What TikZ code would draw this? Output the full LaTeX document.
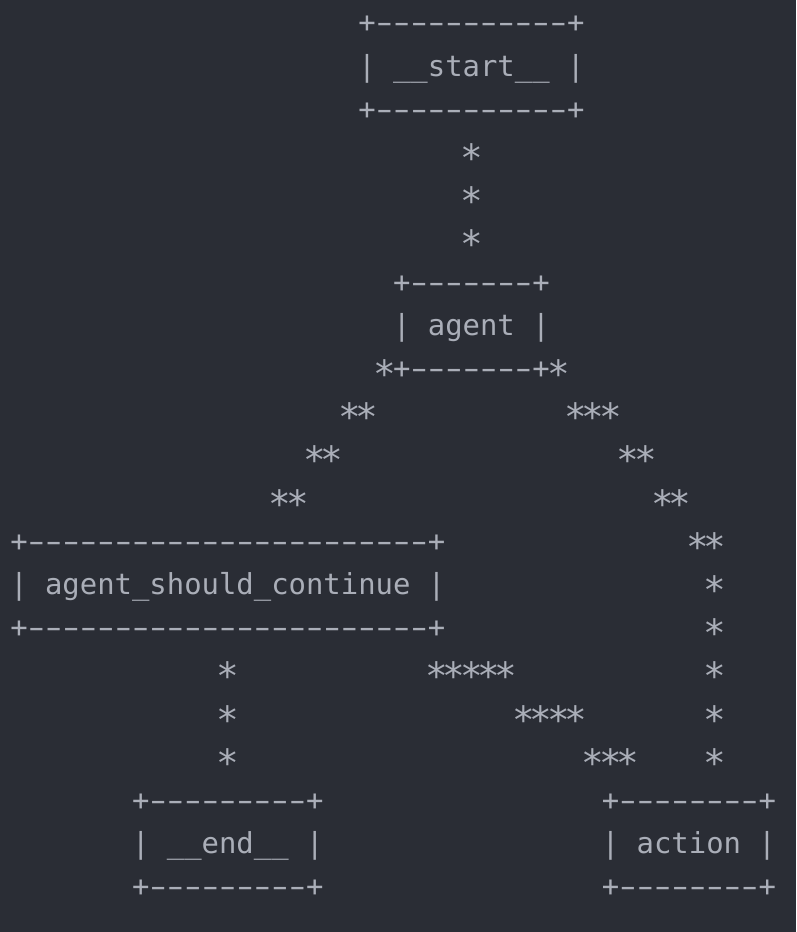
\documentclass[tikz,border=0pt]{standalone}
\usepackage{fontspec}
\newfontfamily\mono{DejaVu Sans Mono}[Ligatures=TeXOff]
\definecolor{bg}{RGB}{42,45,53}
\definecolor{fg}{RGB}{170,174,184}
\tikzset{
  txt/.style={anchor=base west, inner sep=0pt, outer sep=0pt, text=fg,
    font=\mono\fontsize{28.9pt}{43.2pt}\selectfont}
}
% column c, row r
\newcommand\at[2]{({10.3pt+17.4pt*#1},{-32.8pt-43.2pt*#2})}
% one asterisk glyph, larger and centred lower, same advance
\newcommand\sg{\makebox[17.4pt][c]{\raisebox{-9pt}{\scalebox{1.3}{*}}}}
\newcommand\stars[1]{\foreach \k in {1,...,#1}{\sg}}
% one dash glyph, wider, same advance
\newcommand\dg{\makebox[17.4pt][c]{\scalebox{1.65}[1]{-}}}
\newcommand\boxline[1]{+\foreach \k in {1,...,#1}{\dg}+}
\begin{document}
\begin{tikzpicture}[x=1pt,y=1pt]
\fill[bg] (0,0) rectangle (796,-932);
\useasboundingbox (0,0) rectangle (796,-932);
% __start__ box
\node[txt] (startT) at \at{20}{0} {\boxline{11}};
\node[txt] (startM) at \at{20}{1} {| \_\_start\_\_ |};
\node[txt] (startB) at \at{20}{2} {\boxline{11}};
% start -> agent
\node[txt] (e1a) at \at{26}{3} {\stars{1}};
\node[txt] (e1b) at \at{26}{4} {\stars{1}};
\node[txt] (e1c) at \at{26}{5} {\stars{1}};
% agent box
\node[txt] (agentT) at \at{22}{6} {\boxline{7}};
\node[txt] (agentM) at \at{22}{7} {| agent |};
\node[txt] (agentB) at \at{22}{8} {\boxline{7}};
% agent -> agent_should_continue
\node[txt] (e2a) at \at{21}{8} {\stars{1}};
\node[txt] (e2b) at \at{19}{9} {\stars{2}};
\node[txt] (e2c) at \at{17}{10} {\stars{2}};
\node[txt] (e2d) at \at{15}{11} {\stars{2}};
% agent <-> action
\node[txt] (e3a) at \at{31}{8} {\stars{1}};
\node[txt] (e3b) at \at{32}{9} {\stars{3}};
\node[txt] (e3c) at \at{35}{10} {\stars{2}};
\node[txt] (e3d) at \at{37}{11} {\stars{2}};
\node[txt] (e3e) at \at{39}{12} {\stars{2}};
\node[txt] (e3f) at \at{40}{13} {\stars{1}};
\node[txt] (e3g) at \at{40}{14} {\stars{1}};
\node[txt] (e3h) at \at{40}{15} {\stars{1}};
\node[txt] (e3i) at \at{40}{16} {\stars{1}};
\node[txt] (e3j) at \at{40}{17} {\stars{1}};
% agent_should_continue box
\node[txt] (ascT) at \at{0}{12} {\boxline{23}};
\node[txt] (ascM) at \at{0}{13} {| agent\_should\_continue |};
\node[txt] (ascB) at \at{0}{14} {\boxline{23}};
% asc -> end
\node[txt] (e4a) at \at{12}{15} {\stars{1}};
\node[txt] (e4b) at \at{12}{16} {\stars{1}};
\node[txt] (e4c) at \at{12}{17} {\stars{1}};
% asc -> action
\node[txt] (e5a) at \at{24}{15} {\stars{5}};
\node[txt] (e5b) at \at{29}{16} {\stars{4}};
\node[txt] (e5c) at \at{33}{17} {\stars{3}};
% __end__ box
\node[txt] (endT) at \at{7}{18} {\boxline{9}};
\node[txt] (endM) at \at{7}{19} {| \_\_end\_\_ |};
\node[txt] (endB) at \at{7}{20} {\boxline{9}};
% action box
\node[txt] (actT) at \at{34}{18} {\boxline{8}};
\node[txt] (actM) at \at{34}{19} {| action |};
\node[txt] (actB) at \at{34}{20} {\boxline{8}};
\end{tikzpicture}
\end{document}
